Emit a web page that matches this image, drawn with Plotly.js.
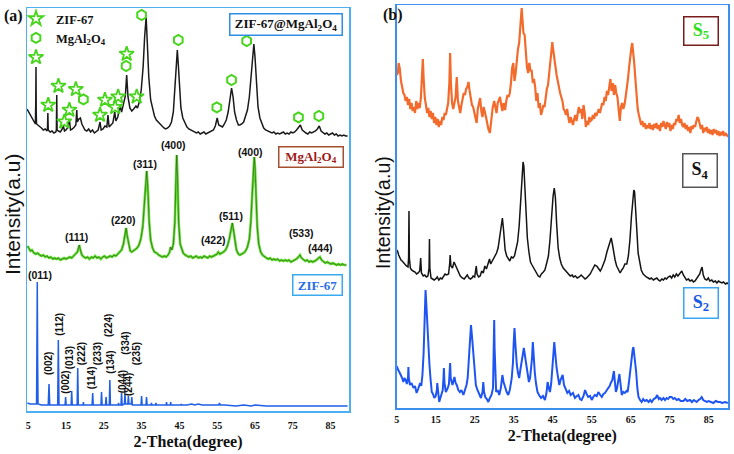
<!DOCTYPE html>
<html><head><meta charset="utf-8">
<script src="https://cdn.plot.ly/plotly-3.0.1.min.js"></script>
<style>html,body{margin:0;padding:0;background:#fff}#chart{width:734px;height:454px}</style>
</head><body><div id="chart"></div>
<script>
// ---------- DATA (2-theta in degrees, intensity in a.u. above each curve's own baseline) ----------
const compPattern = [[4.7,33],[5.0,31],[5.4,28],[5.8,25],[6.2,22],[6.6,20],[6.9,18],[7.0,40],[7.06,75],[7.12,30],[7.2,18],[7.6,17],[8.0,16],[8.5,14],[9.0,12],[9.5,13],[10.0,11],[10.1,14],[10.2,29],[10.3,12],[10.8,10],[11.3,11],[11.8,9],[12.3,10],[12.45,12],[12.55,47],[12.65,12],[13.0,11],[13.5,10],[14.0,13],[14.3,16],[14.6,11],[15.0,12],[15.4,14],[15.9,22],[16.2,12],[16.7,13],[17.2,15],[17.6,17],[17.85,32],[18.0,20],[18.4,23],[18.8,24],[19.2,18],[19.6,14],[20.0,12],[20.5,11],[21.0,13],[21.5,10],[22.0,12],[22.5,9],[23.0,11],[23.5,12],[24.0,20],[24.3,12],[24.8,13],[25.3,16],[25.8,15],[26.1,27],[26.4,15],[26.9,17],[27.4,19],[27.9,30],[28.2,21],[28.7,25],[29.3,36],[29.7,30],[30.3,42],[30.7,46],[31.05,67],[31.4,45],[31.9,34],[32.4,31],[32.9,33],[33.5,36],[33.9,34],[34.4,40],[34.9,52],[35.4,75],[35.8,105],[36.2,125],[36.5,100],[36.9,65],[37.4,42],[37.9,32],[38.4,26],[38.9,22],[39.4,20],[39.9,17],[40.4,16],[40.9,14],[41.4,13],[41.9,14],[42.4,16],[42.9,20],[43.4,30],[43.8,52],[44.2,80],[44.45,92],[44.7,78],[45.0,52],[45.4,34],[45.9,24],[46.5,19],[47.0,15],[47.5,13],[48.0,12],[48.5,11],[49.0,10],[49.5,9],[50.0,10],[50.5,8],[51.0,9],[51.5,10],[52.0,8],[52.5,9],[53.0,10],[53.5,11],[54.0,12],[54.5,16],[55.0,24],[55.4,17],[55.9,16],[56.4,15],[56.9,18],[57.4,22],[57.9,30],[58.4,45],[58.8,54],[59.2,45],[59.6,30],[60.1,22],[60.6,17],[61.0,17],[61.5,18],[62.0,20],[62.5,25],[63.0,32],[63.5,45],[64.0,68],[64.4,88],[64.7,98],[65.0,85],[65.4,58],[65.8,35],[66.3,24],[66.8,18],[67.3,14],[67.8,12],[68.3,11],[69.0,10],[69.5,9],[70.0,10],[70.5,8],[71.0,9],[71.5,8],[72.0,9],[72.5,10],[73.0,8],[73.5,9],[74.0,8],[74.5,10],[75.0,9],[75.5,10],[76.0,12],[76.5,14],[77.0,17],[77.5,12],[78.0,10],[78.5,9],[79.0,8],[79.5,10],[80.0,9],[80.5,10],[81.0,11],[81.5,13],[82.0,16],[82.5,11],[83.0,9],[83.5,8],[84.0,9],[84.5,7],[85.0,8],[85.5,9],[86.0,7],[86.5,8],[87.0,6],[87.5,7],[88.0,6],[88.5,7],[89.0,6],[89.5,6]];

const mgPattern = [[4.8,26],[5.2,23],[5.6,21],[6.0,22],[6.5,19],[7.0,18],[7.5,19],[8.0,17],[8.5,16],[9.0,17],[9.5,15],[10.0,16],[10.5,14],[11.0,15],[11.5,13],[12.0,14],[12.5,13],[13.0,14],[13.5,12],[14.0,13],[14.5,14],[15.0,13],[15.5,14],[16.0,15],[16.5,14],[17.0,16],[17.5,17],[18.0,20],[18.3,24],[18.5,27],[18.8,22],[19.2,17],[19.7,15],[20.2,14],[20.7,15],[21.2,13],[21.7,15],[22.2,14],[22.7,16],[23.2,14],[23.7,15],[24.2,13],[24.7,15],[25.2,16],[25.7,14],[26.2,15],[26.7,16],[27.2,15],[27.7,17],[28.2,16],[28.7,18],[29.2,19],[29.7,22],[30.2,28],[30.6,37],[30.9,44],[31.2,36],[31.6,26],[32.0,21],[32.4,20],[32.8,21],[33.3,22],[33.8,24],[34.3,27],[34.8,33],[35.3,45],[35.7,65],[36.0,88],[36.35,101],[36.7,80],[37.0,50],[37.4,32],[37.9,24],[38.4,20],[39.0,19],[39.5,17],[40.0,16],[40.5,15],[41.0,16],[41.5,15],[42.0,17],[42.4,20],[42.7,25],[43.0,22],[43.4,28],[43.8,50],[44.1,95],[44.3,117],[44.5,95],[44.8,50],[45.2,28],[45.6,22],[46.0,19],[46.5,17],[47.0,16],[47.5,15],[48.0,16],[48.5,14],[49.0,15],[49.5,16],[50.0,14],[50.5,15],[51.0,14],[51.5,16],[52.0,15],[52.5,14],[53.0,16],[53.5,15],[54.0,16],[54.5,17],[55.0,18],[55.3,20],[55.7,18],[56.2,19],[56.7,20],[57.2,22],[57.7,26],[58.2,33],[58.6,42],[59.0,49],[59.3,42],[59.7,30],[60.1,22],[60.6,18],[61.0,17],[61.5,18],[62.0,19],[62.5,21],[63.0,25],[63.5,33],[63.9,50],[64.3,80],[64.6,105],[64.8,115],[65.0,105],[65.3,75],[65.6,45],[66.0,28],[66.5,20],[67.0,17],[67.5,15],[68.0,14],[68.5,13],[69.0,14],[69.5,12],[70.0,13],[70.5,12],[71.0,13],[71.5,11],[72.0,12],[72.5,11],[73.0,12],[73.5,11],[74.0,12],[74.5,10],[75.0,11],[75.5,12],[76.0,13],[76.5,15],[76.9,17],[77.3,14],[77.8,12],[78.3,11],[78.8,12],[79.3,10],[79.8,11],[80.3,10],[80.8,11],[81.3,12],[81.8,14],[82.2,15],[82.6,12],[83.1,10],[83.6,9],[84.1,10],[84.6,9],[85.1,8],[85.6,9],[86.1,8],[86.6,7],[87.1,8],[87.6,7],[88.1,8],[88.6,7],[89.2,7]];

const zifPattern = [[4.8,9],[5.5,8],[6.5,8],[7.2,8],[7.3,60],[7.4,130],[7.5,50],[7.6,8],[8.5,7],[9.5,7],[10.3,7],[10.5,28],[10.7,7],[11.8,7],[12.8,7],[12.97,72],[13.15,7],[14.0,7],[14.75,7],[14.9,15],[15.05,7],[16.35,7],[16.5,21],[16.65,7],[17.95,7],[18.1,44],[18.25,7],[19.5,7],[19.6,10],[19.7,7],[21.0,7],[21.9,7],[22.06,19],[22.2,7],[23.3,7],[24.25,7],[24.4,20],[24.55,7],[25.45,7],[25.6,15],[25.75,7],[26.45,7],[26.6,32],[26.75,7],[27.5,7],[28.8,7],[28.9,9],[29.0,7],[29.55,7],[29.7,19],[29.85,7],[30.45,8],[30.6,18],[30.75,8],[31.35,8],[31.5,16],[31.65,8],[32.25,8],[32.4,15],[32.55,7],[33.5,7],[34.85,7],[35.0,16],[35.15,7],[36.15,7],[36.3,15],[36.45,7],[37.5,7],[37.6,9],[37.7,7],[38.7,7],[38.8,9],[38.9,7],[40.0,7],[41.5,7],[41.6,10],[41.7,7],[42.6,7],[42.7,10],[42.8,7],[44.0,7],[45.4,7],[45.5,8],[45.6,7],[47.0,7],[48.3,8],[49.0,7],[50.0,8],[51.0,7],[52.5,7],[53.5,7],[55.4,7],[55.6,9],[55.8,7],[57.0,7],[60.0,6],[62.0,7],[64.0,6],[65.0,7],[68.0,6],[72.0,6],[76.0,6],[80.0,6],[84.0,6],[89.5,6]];

const s5Pattern = [[5.0,78],[5.3,80],[5.5,90],[5.8,84],[6.1,72],[6.4,66],[6.7,60],[7.0,58],[7.3,52],[7.6,56],[7.9,48],[8.2,54],[8.5,44],[8.8,50],[9.1,42],[9.4,46],[9.7,40],[10.0,52],[10.3,44],[10.6,50],[10.9,45],[11.2,55],[11.5,80],[11.7,94],[11.9,75],[12.2,55],[12.5,48],[12.8,40],[13.1,45],[13.4,36],[13.7,42],[14.0,34],[14.3,40],[14.6,30],[14.9,36],[15.2,28],[15.5,34],[15.8,26],[16.1,32],[16.4,28],[16.7,36],[17.0,33],[17.3,40],[17.6,38],[17.9,44],[18.2,50],[18.5,70],[18.7,100],[18.9,70],[19.2,50],[19.5,44],[19.8,52],[20.1,56],[20.4,76],[20.7,52],[21.0,46],[21.3,40],[21.6,48],[21.9,55],[22.2,60],[22.5,58],[22.8,64],[23.1,66],[23.4,71],[23.7,62],[24.0,56],[24.3,48],[24.6,46],[24.9,40],[25.2,34],[25.5,30],[25.8,44],[26.1,50],[26.4,55],[26.7,42],[27.0,36],[27.3,46],[27.6,42],[27.9,36],[28.2,30],[28.5,24],[28.9,20],[29.2,34],[29.6,45],[30.0,52],[30.3,46],[30.6,40],[30.9,50],[31.2,54],[31.5,56],[31.8,48],[32.1,42],[32.4,50],[32.8,43],[33.1,52],[33.4,58],[33.7,56],[34.0,60],[34.3,70],[34.6,85],[34.9,90],[35.2,72],[35.5,80],[35.8,95],[36.1,104],[36.4,110],[36.7,128],[36.9,140],[37.05,145],[37.2,136],[37.5,120],[37.8,118],[38.1,100],[38.4,86],[38.7,80],[39.0,90],[39.3,82],[39.6,83],[39.9,70],[40.2,74],[40.5,66],[40.8,52],[41.1,60],[41.4,45],[41.7,50],[42.0,38],[42.3,42],[42.6,48],[42.9,46],[43.2,58],[43.5,64],[43.8,68],[44.1,82],[44.4,96],[44.7,105],[44.9,111],[45.1,104],[45.4,95],[45.7,84],[46.0,78],[46.3,72],[46.6,64],[46.9,60],[47.2,56],[47.5,52],[47.8,44],[48.1,42],[48.4,38],[48.7,44],[49.0,36],[49.3,30],[49.6,36],[49.9,32],[50.2,28],[50.5,34],[50.8,38],[51.1,32],[51.4,42],[51.7,46],[52.0,40],[52.3,44],[52.6,34],[52.9,48],[53.2,40],[53.5,26],[53.8,32],[54.1,28],[54.4,36],[54.7,32],[55.0,33],[55.3,38],[55.6,34],[55.9,40],[56.2,37],[56.5,42],[56.8,44],[57.1,40],[57.4,46],[57.7,50],[58.0,48],[58.3,56],[58.6,52],[58.9,62],[59.2,58],[59.5,68],[59.8,74],[60.1,62],[60.4,70],[60.7,58],[61.0,68],[61.3,60],[61.6,56],[61.9,44],[62.2,32],[62.5,46],[62.8,50],[63.1,44],[63.4,48],[63.7,56],[64.0,64],[64.3,74],[64.6,86],[64.9,98],[65.2,106],[65.4,110],[65.6,104],[65.9,90],[66.2,74],[66.5,56],[66.8,44],[67.1,38],[67.4,32],[67.7,28],[68.0,32],[68.3,26],[68.6,30],[68.9,24],[69.2,28],[69.5,25],[69.8,30],[70.1,24],[70.4,28],[70.7,23],[71.0,29],[71.3,25],[71.6,30],[71.9,24],[72.2,28],[72.5,22],[72.8,30],[73.1,26],[73.4,32],[73.7,28],[74.0,24],[74.3,31],[74.6,26],[74.9,30],[75.2,22],[75.5,28],[75.8,24],[76.1,30],[76.4,28],[76.7,34],[77.0,32],[77.3,38],[77.6,30],[77.9,34],[78.2,28],[78.5,26],[78.8,30],[79.1,24],[79.4,28],[79.7,22],[80.0,26],[80.3,20],[80.6,27],[80.9,24],[81.2,28],[81.5,26],[81.8,30],[82.1,36],[82.4,34],[82.7,28],[83.0,24],[83.3,28],[83.6,20],[83.9,25],[84.2,22],[84.5,26],[84.8,20],[85.1,24],[85.4,19],[85.7,23],[86.0,18],[86.3,24],[86.6,20],[86.9,23],[87.2,18],[87.5,22],[87.8,17],[88.1,21],[88.4,18],[88.7,22],[89.0,17],[89.3,20],[89.6,18],[90.0,16]];

const s4Pattern = [[5.0,38],[5.3,36],[5.5,33],[5.8,30],[6.1,28],[6.4,27],[6.8,25],[7.1,24],[7.5,22],[7.9,21],[8.05,30],[8.15,77],[8.25,30],[8.5,20],[8.8,18],[9.2,17],[9.7,16],[10.1,14],[10.5,15],[10.9,17],[11.15,30],[11.35,15],[11.8,12],[12.2,13],[12.6,11],[13.0,12],[13.3,20],[13.4,49],[13.5,20],[13.8,10],[14.2,9],[14.6,8],[15.0,9],[15.4,11],[15.8,8],[16.2,10],[16.6,9],[17.0,12],[17.4,14],[17.8,13],[18.3,14],[18.6,25],[18.7,33],[18.9,22],[19.3,20],[19.7,26],[20.1,22],[20.5,18],[20.9,14],[21.3,12],[21.8,10],[22.3,9],[22.7,11],[23.1,13],[23.5,10],[23.9,9],[24.3,10],[24.6,12],[25.0,11],[25.4,22],[25.6,14],[26.0,11],[26.4,12],[26.8,17],[27.2,15],[27.6,22],[28.0,19],[28.4,25],[28.8,29],[29.1,24],[29.5,27],[29.9,30],[30.3,32],[30.6,35],[31.0,40],[31.4,50],[31.8,62],[32.1,70],[32.4,58],[32.8,38],[33.2,32],[33.6,30],[34.0,27],[34.4,31],[34.8,30],[35.2,32],[35.6,38],[36.0,46],[36.4,62],[36.8,85],[37.1,110],[37.4,126],[37.6,122],[37.9,100],[38.2,72],[38.5,50],[38.9,36],[39.3,26],[39.7,23],[40.1,20],[40.5,17],[40.9,14],[41.3,12],[41.7,11],[42.1,14],[42.6,16],[43.0,18],[43.4,24],[43.9,32],[44.3,48],[44.7,72],[45.1,92],[45.4,100],[45.7,90],[46.0,65],[46.4,40],[46.8,30],[47.2,24],[47.7,20],[48.1,18],[48.6,16],[49.0,14],[49.5,12],[50.0,13],[50.3,11],[50.8,12],[51.3,10],[51.8,11],[52.3,13],[52.8,11],[53.3,9],[53.7,10],[54.2,12],[54.6,14],[55.0,17],[55.4,20],[55.8,23],[56.3,22],[56.8,19],[57.2,17],[57.6,20],[58.0,24],[58.4,28],[58.9,36],[59.3,42],[59.6,46],[60.0,50],[60.3,44],[60.7,34],[61.0,28],[61.4,22],[61.8,18],[62.3,15],[62.7,18],[63.1,20],[63.5,24],[64.0,24],[64.4,32],[64.8,48],[65.2,72],[65.5,90],[65.8,98],[66.0,96],[66.3,80],[66.6,56],[66.9,35],[67.3,24],[67.7,18],[68.2,14],[68.6,12],[69.0,11],[69.5,10],[69.9,9],[70.3,10],[70.8,8],[71.2,9],[71.7,10],[72.1,8],[72.5,7],[73.0,9],[73.4,8],[73.8,10],[74.2,9],[74.6,11],[75.1,12],[75.5,10],[75.9,13],[76.3,11],[76.7,14],[77.1,12],[77.6,15],[78.1,17],[78.5,13],[78.9,10],[79.3,8],[79.8,9],[80.2,7],[80.7,8],[81.1,6],[81.5,7],[81.9,9],[82.3,11],[82.7,14],[83.0,18],[83.3,21],[83.6,13],[84.0,9],[84.5,8],[84.9,10],[85.3,7],[85.8,8],[86.2,6],[86.7,7],[87.1,5],[87.5,7],[87.9,6],[88.4,5],[88.8,6],[89.3,4],[89.7,5],[90.0,4]];

const s2Pattern = [[5.0,42],[5.3,40],[5.4,38],[5.8,35],[6.1,33],[6.4,30],[6.7,26],[7.0,30],[7.3,28],[7.6,24],[7.9,30],[8.0,41],[8.1,30],[8.4,23],[8.8,25],[9.3,20],[9.7,22],[10.1,15],[10.5,19],[11.0,25],[11.3,22],[11.6,33],[11.9,55],[12.15,95],[12.4,118],[12.65,100],[12.9,80],[13.1,55],[13.4,43],[13.7,28],[14.0,16],[14.3,14],[14.65,10],[15.0,12],[15.3,18],[15.4,25],[15.6,14],[15.9,6],[16.2,10],[16.5,13],[16.8,18],[17.0,30],[17.1,40],[17.25,25],[17.6,16],[18.1,20],[18.4,24],[18.6,38],[18.7,45],[18.85,30],[19.3,23],[19.8,31],[20.1,25],[20.4,23],[20.8,18],[21.2,16],[21.6,18],[22.1,13],[22.5,18],[22.9,23],[23.2,30],[23.5,46],[23.8,70],[24.05,83],[24.3,72],[24.6,56],[24.9,38],[25.3,23],[25.7,18],[26.1,15],[26.6,10],[27.0,16],[27.2,26],[27.4,16],[27.7,11],[28.1,9],[28.5,6],[28.9,10],[29.3,13],[29.7,20],[29.9,60],[30.0,88],[30.1,60],[30.3,20],[30.5,16],[30.9,18],[31.3,13],[31.7,20],[32.1,33],[32.4,26],[32.8,20],[33.2,16],[33.6,13],[34.0,18],[34.5,30],[34.8,45],[35.0,65],[35.2,80],[35.4,66],[35.6,50],[35.8,43],[36.1,35],[36.4,30],[36.7,38],[37.0,46],[37.3,54],[37.6,60],[37.9,52],[38.3,43],[38.6,34],[38.9,26],[39.2,30],[39.4,36],[39.7,50],[39.9,66],[40.1,52],[40.4,36],[40.7,25],[41.1,16],[41.5,13],[42.0,10],[42.5,12],[43.0,8],[43.4,15],[43.7,26],[44.0,20],[44.3,16],[44.6,24],[44.9,36],[45.2,55],[45.4,66],[45.6,55],[45.8,42],[46.0,40],[46.4,30],[46.7,23],[47.0,28],[47.3,30],[47.55,33],[47.9,23],[48.2,20],[48.75,15],[49.2,17],[49.6,13],[50.2,15],[50.7,10],[51.2,12],[51.6,13],[52.0,9],[52.4,8],[52.9,12],[53.3,18],[53.7,14],[54.1,11],[54.6,12],[55.0,8],[55.4,11],[55.8,13],[56.3,12],[56.7,16],[57.2,13],[57.6,11],[58.0,14],[58.4,15],[58.9,18],[59.3,20],[59.6,22],[59.9,25],[60.3,28],[60.5,33],[60.7,37],[60.9,28],[61.2,16],[61.5,20],[61.8,28],[62.1,34],[62.4,24],[62.7,13],[63.1,16],[63.5,15],[63.9,17],[64.2,16],[64.5,24],[64.8,36],[65.2,50],[65.5,58],[65.7,61],[65.9,55],[66.1,46],[66.4,36],[66.7,20],[67.0,11],[67.4,8],[67.8,6],[68.2,9],[68.6,7],[69.1,8],[69.6,6],[70.0,8],[70.4,6],[70.9,9],[71.4,10],[71.8,13],[72.2,9],[72.5,10],[72.9,8],[73.4,10],[73.8,8],[74.2,10],[74.6,9],[75.0,11],[75.5,11],[75.9,9],[76.3,10],[76.8,8],[77.3,9],[77.8,7],[78.5,7],[79.0,9],[79.5,7],[80.2,8],[80.7,6],[81.2,8],[81.9,6],[82.4,8],[82.8,9],[83.2,11],[83.6,8],[84.0,7],[84.5,6],[85.0,7],[85.6,6],[86.2,5],[86.8,7],[87.4,6],[87.9,6],[88.5,5],[89.2,6],[89.9,5]];

// peak markers on the ZIF-67@MgAl2O4 pattern (2-theta, intensity above that curve's baseline)
const starTheta = [7.06, 10.3, 13.0, 17.6, 15.9, 14.55, 24.0, 25.3, 28.0, 28.8, 31.05, 33.7];
const starI     = [84.7, 37, 56, 52.7, 32, 20.3, 27, 42, 34.7, 45.3, 88, 45.3];
const hexTheta  = [19.6, 30.9, 35.0, 44.7, 58.8, 54.9, 62.8, 76.5, 81.9];
const hexI      = [42.7, 76, 127, 102, 62, 34.7, 101, 24.7, 26];

// Miller-index labels
const mgHkl      = ['(111)','(220)','(311)','(400)','(422)','(511)','(400)','(533)','(444)'];
const mgHklTheta = [17.9, 30.3, 35.9, 43.4, 53.9, 58.7, 63.9, 77.4, 82.3];
const mgHklI     = [35, 52, 108, 127, 32, 56, 120, 39, 24];
const zifHkl      = ['(002)','(112)','(002)','(013)','(222)','(114)','(233)','(224)','(134)','(044)','(334)','(244)','(235)'];
const zifHklTheta = [10.42, 13.07, 14.66, 15.87, 19.05, 21.69, 23.28, 26.11, 26.56, 29.89, 30.53, 31.4, 33.6];
const zifHklI     = [48.7, 88, 30, 54, 58, 34, 58, 86, 50, 30, 69, 27, 58];
const zifFirstHkl = '(011)', zifFirstTheta = 8.1, zifFirstI = 137;

const tickVals = [5, 15, 25, 35, 45, 55, 65, 75, 85];

// ---------- LAYOUT HELPERS ----------
const W = 734, H = 454, M = {l: 27, r: 6, t: 5, b: 43, autoexpand: false};
const PW = W - M.l - M.r, PH = H - M.t - M.b;
const fx = px => (px - M.l) / PW;
const fy = py => (H - M.b - py) / PH;

// vertical stacking offsets (a.u.)
const offComp = 270, offMg = 140, offZif = 0;
const offS5 = 255, offS4 = 120, offS2 = 0;

const xs = p => p.map(d => d[0]);
const ys = (p, off) => p.map(d => d[1] + off);

const lineTrace = (p, off, color, width, xa, ya) => ({
  type: 'scatter', mode: 'lines', x: xs(p), y: ys(p, off), xaxis: xa, yaxis: ya,
  line: {color: color, width: width, shape: 'linear'}, showlegend: false, hoverinfo: 'skip'
});

const green = '#46d41c';
const traces = [
  lineTrace(zifPattern, offZif, '#1f5ee6', 1.5, 'x', 'y'),
  lineTrace(mgPattern, offMg, '#62e032', 2.6, 'x', 'y'),
  lineTrace(mgPattern, offMg, '#2a4a1a', 0.6, 'x', 'y'),
  lineTrace(compPattern, offComp, '#1a1a1a', 1.5, 'x', 'y'),
  {type: 'scatter', mode: 'markers', name: 'ZIF-67', x: starTheta, y: starI.map(v => v + offComp),
   xaxis: 'x', yaxis: 'y', marker: {symbol: 'star-open', size: 11, color: green, line: {width: 1.8, color: green}}},
  {type: 'scatter', mode: 'markers', name: 'MgAl<sub>2</sub>O<sub>4</sub>', x: hexTheta, y: hexI.map(v => v + offComp),
   xaxis: 'x', yaxis: 'y', marker: {symbol: 'hexagon-open', size: 10, color: green, line: {width: 2, color: green}}},
  lineTrace(s2Pattern, offS2, '#1e55f2', 2.0, 'x2', 'y2'),
  lineTrace(s4Pattern, offS4, '#141414', 1.5, 'x2', 'y2'),
  lineTrace(s5Pattern, offS5, '#f36b2c', 2.2, 'x2', 'y2')
];

const serif = 'Liberation Serif, Times New Roman, serif';
const sans = 'Liberation Sans, Arial, sans-serif';

const ann = [];
const C = {xanchor: 'center', yanchor: 'middle', showarrow: false};
// Miller indices
mgHkl.forEach((t, i) => ann.push(Object.assign({xref: 'x', yref: 'y', x: mgHklTheta[i], y: mgHklI[i] + offMg, text: t,
  font: {family: sans, size: 10.5, color: '#111', weight: 'bold'}}, C)));
ann.push(Object.assign({xref: 'x', yref: 'y', x: zifFirstTheta, y: zifFirstI + offZif, text: zifFirstHkl,
  font: {family: sans, size: 10.5, color: '#111', weight: 'bold'}}, C));
zifHkl.forEach((t, i) => ann.push(Object.assign({xref: 'x', yref: 'y', x: zifHklTheta[i], y: zifHklI[i] + offZif, text: t,
  textangle: -90, font: {family: sans, size: 10, color: '#111', weight: 'bold'}}, C)));

// boxed sample labels
const box = (cx, cy, w, h, text, color, border, size) => Object.assign({
  xref: 'paper', yref: 'paper', x: fx(cx), y: fy(cy),
  text: text, width: w, height: h, borderpad: 1, borderwidth: 1.5,
  bordercolor: border, bgcolor: '#fff', align: 'center', valign: 'middle',
  font: {family: serif, size: size, color: color, weight: 'bold'}
}, C);
ann.push(box(285.5, 24, 109, 18, 'ZIF-67@MgAl<sub>2</sub>O<sub>4</sub>', '#111', '#2f8de6', 13));
ann.push(box(310.5, 157, 61, 17, 'MgAl<sub>2</sub>O<sub>4</sub>', '#a11a1a', '#a4502e', 13));
ann.push(box(317, 284.5, 46, 17, 'ZIF-67', '#2a6ee8', '#3aaaf0', 13));
ann.push(box(700.5, 31.5, 31, 25, 'S<sub>5</sub>', '#2ee01a', '#7a1c1c', 18));
ann.push(box(700, 170, 31, 30, 'S<sub>4</sub>', '#111', '#555', 18));
ann.push(box(701, 302.5, 31, 27, 'S<sub>2</sub>', '#1a5ae6', '#39a6f2', 18));

// panel letters
ann.push(Object.assign({xref: 'paper', yref: 'paper', x: fx(13), y: fy(16), text: '(a)',
  font: {family: serif, size: 16, color: '#111', weight: 'bold'}}, C));
ann.push(Object.assign({xref: 'paper', yref: 'paper', x: fx(393), y: fy(15), text: '(b)',
  font: {family: serif, size: 16, color: '#111', weight: 'bold'}}, C));

// y-axis titles (rotated)
ann.push(Object.assign({xref: 'paper', yref: 'paper', x: fx(13), y: fy(215), text: 'Intensity(a.u)', textangle: -90,
  font: {family: sans, size: 21, color: '#111'}}, C));
ann.push(Object.assign({xref: 'paper', yref: 'paper', x: fx(383), y: fy(213), text: 'Intensity(a.u)', textangle: -90,
  font: {family: sans, size: 19.5, color: '#111'}}, C));

const xaxisBase = {
  tickvals: tickVals, ticks: '', showgrid: false, zeroline: false, showline: true, mirror: true,
  linewidth: 1.5, tickfont: {family: serif, size: 10, color: '#111', weight: 'bold'},
  title: {text: '2-Theta(degree)', font: {family: serif, size: 16, color: '#111', weight: 'bold'}, standoff: 6}
};
const yaxisBase = {
  showticklabels: false, ticks: '', showgrid: false, zeroline: false, showline: true, mirror: true, linewidth: 1.5
};

const layout = {
  width: W, height: H, margin: M, paper_bgcolor: '#fff', plot_bgcolor: 'rgba(0,0,0,0)',
  xaxis: Object.assign({}, xaxisBase, {domain: [fx(27), fx(349)], range: [4.68, 89.87], anchor: 'y', linecolor: '#4db0f2', ticklabelstandoff: 4}),
  yaxis: Object.assign({}, yaxisBase, {domain: [fy(411), fy(8)], range: [1, 404], anchor: 'x', linecolor: '#4db0f2'}),
  xaxis2: Object.assign({}, xaxisBase, {domain: [fx(396.7), fx(728)], range: [5.0, 89.95], anchor: 'y2', linecolor: '#3d8fee', ticklabelstandoff: 1}),
  yaxis2: Object.assign({}, yaxisBase, {domain: [fy(408), fy(5)], range: [0, 403], anchor: 'x2', linecolor: '#3d8fee'}),
  showlegend: true,
  legend: {x: fx(16), y: fy(4), xanchor: 'left', yanchor: 'top', bgcolor: 'rgba(0,0,0,0)', borderwidth: 0,
    font: {family: serif, size: 12.5, color: '#111', weight: 'bold'}, itemwidth: 30, tracegroupgap: 0},
  annotations: ann
};

Plotly.newPlot('chart', traces, layout, {staticPlot: true, displayModeBar: false});
</script>
</body></html>
